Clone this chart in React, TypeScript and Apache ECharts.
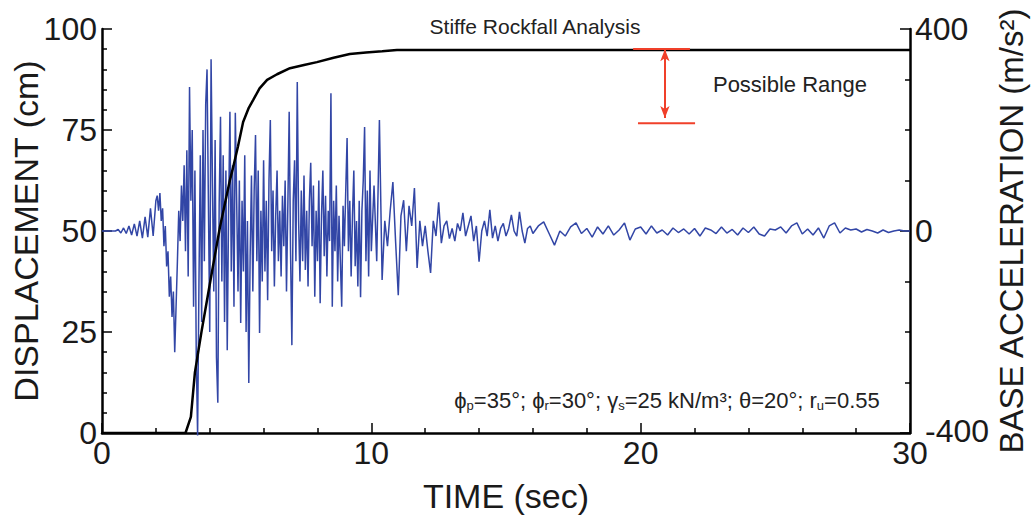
import React, { useEffect, useRef } from "react";
import * as echarts from "echarts";

// ---------- DATA ----------
// Axis ticks
const timeTicks = [0, 10, 20, 30];
const dispTicks = [0, 25, 50, 75, 100];
const accTicks = [-400, 0, 400];

// Displacement curve (cm) — time points and values
const dispTime = [0, 3.1, 3.3, 3.45, 3.71, 4.08, 4.38, 4.75, 4.87, 5.05, 5.24, 5.45, 5.61, 5.85, 6.13, 6.5, 6.98, 7.5, 7.98, 8.6, 9.2, 9.8, 10.4, 10.95, 30];
const dispValue = [0, 0, 4, 15, 25.7, 39.8, 51, 62.6, 65.8, 71, 77, 80.5, 82.4, 85.3, 87.4, 88.8, 90.3, 91.1, 91.8, 92.9, 93.8, 94.2, 94.5, 94.8, 94.8];

// Base acceleration record (m/s^2), in sampled segments
// Segment A: t = 0.0 .. 2.0, every 0.1 s
const accSegAStart = 0;
const accSegAStep = 0.1;
const accSegA = [0, 0, 0, 0, 0, 0, 3, -4, 6, -5, 10, -8, 14, -10, 20, -14, 28, -12, 45, -10, 60];
// Segment B: t = 2.05 .. 10.0, every 0.05 s
const accSegBStart = 2.05;
const accSegBStep = 0.05;
const accSegB = [
  70, 40, 75, 20, 45, -30, 10, -70, -40, -130, -90, -170, -120, -240, -150, -60, 40, -20, 90, 20,
  130, -40, 160, -90, 285, 60, 200, -150, 120, -250, -405, -100, 150, -180, 200, -60, 250, 320, 60, -200,
  340, 100, -120, 180, -250, -340, 50, 226, -100, 150, -180, 120, -236, 40, 236, -80, 130, -150, 234, 60,
  -120, 100, -182, 60, -80, 150, -200, 20, -301, -50, 110, -120, 80, 190, -60, 120, -202, 40, -100, 140,
  -80, 60, -137, 100, 220, -40, 80, -110, 30, 120, -60, 40, -90, 70, -30, 100, -120, 50, 236, -40,
  -226, 60, 140, -60, 295, 20, -100, 80, -60, 110, -77, 40, -110, 60, 135, -30, 90, -130, 40, -60,
  100, -143, 30, 120, -50, 70, -90, 40, -20, 273, -150, 60, -40, 90, -100, 30, -60, -150, 50, -30,
  80, 184, -40, 60, -90, 30, 120, -70, 20, -110, 60, -131, 40, 100, 206, -60, 80, -90, 120, -40,
];
// Segment C: t = 10.1 .. 16.0, every 0.1 s
const accSegCStart = 10.1;
const accSegCStep = 0.1;
const accSegC = [
  90, -60, 220, -97, 20, -30, 40, 97, -20, -127,
  30, 61, -40, 50, 10, 85, -73, 20, -30, 10,
  -40, -83, 20, -10, 57, -24, 10, 20, -15, 5,
  -20, 15, 0, 36, -10, 10, 30, -20, 10, -61,
  0, 20, -10, 42, -14, 10, -20, 5, 15, -10,
  5, 32, 0, -10, 38, 0, -24, 5, 10, -5,
];
// Segment D: t = 16.2 .. 30.0, every 0.2 s
const accSegDStart = 16.2;
const accSegDStep = 0.2;
const accSegD = [
  10, 18, -5, -28, 0, -10, 8, 16, -5, 5,
  -12, 8, -6, 10, -8, 2, 16, -18, 4, 8,
  -6, 10, -4, 2, -8, 6, -3, 4, -6, 5,
  -10, 6, 2, -5, 8, -4, 3, -8, 6, -3,
  8, -6, -10, 4, 2, 8, -4, 10, 16, -6,
  4, -8, 6, -14, 10, 16, -4, 6, 2, 4,
  -2, 3, 0, -4, 2, -3, 0, 2, 0, 0,
];

// "Possible Range" marker (displacement, cm)
const rangeUpperValue = 95.05;
const rangeUpperTime = [19.72, 21.83];
const rangeLowerValue = 76.7;
const rangeLowerTime = [19.9, 22.02];
const rangeArrowTime = 20.9;
const rangeArrowEnds = [95, 78];

// ---------- BUILD ----------
function seg(start: number, step: number, vals: number[]) {
  return vals.map((v, i) => [Math.round((start + i * step) * 1000) / 1000, v]);
}
const accData = [
  ...seg(accSegAStart, accSegAStep, accSegA),
  ...seg(accSegBStart, accSegBStep, accSegB),
  ...seg(accSegCStart, accSegCStep, accSegC),
  ...seg(accSegDStart, accSegDStep, accSegD),
];
const dispData = dispTime.map((t, i) => [t, dispValue[i]]);

const FONT = "Liberation Sans, Arial, sans-serif";
const RED = "#f0402a";
const TXT = "#1a1a1a";

export default function App() {
  const ref = useRef<HTMLDivElement>(null);
  useEffect(() => {
    if (!ref.current) return;
    const chart = echarts.init(ref.current, undefined, { renderer: "svg" });
    const axisLine = { show: true, onZero: false, lineStyle: { color: "#000", width: 2.5 } };
    const tick = { show: true, inside: true, length: 10, lineStyle: { color: "#000", width: 1.5 } };
    const minor = (n: number) => ({ show: true, splitNumber: n, length: 5, lineStyle: { color: "#000", width: 1.5 } });
    chart.setOption({
      animation: false,
      backgroundColor: "#fff",
      textStyle: { fontFamily: FONT },
      grid: { left: 102, right: 123, top: 29, bottom: 82, containLabel: false, outerBoundsMode: "none" },
      xAxis: {
        type: "value",
        min: timeTicks[0],
        max: timeTicks[timeTicks.length - 1],
        interval: timeTicks[1] - timeTicks[0],
        name: "TIME (sec)",
        nameLocation: "middle",
        nameGap: 46,
        nameMoveOverlap: false,
        nameTextStyle: { fontSize: 34, color: TXT, fontFamily: FONT },
        axisLine,
        axisTick: tick,
        minorTick: minor(5),
        axisLabel: { fontSize: 32, color: TXT, margin: 4, fontFamily: FONT },
        splitLine: { show: false },
        minorSplitLine: { show: false },
      },
      yAxis: [
        {
          type: "value",
          position: "left",
          min: dispTicks[0],
          max: dispTicks[dispTicks.length - 1],
          interval: dispTicks[1] - dispTicks[0],
          name: "DISPLACEMENT (cm)",
          nameLocation: "middle",
          nameRotate: 90,
          nameGap: 59,
          nameMoveOverlap: false,
          nameTextStyle: { fontSize: 34, color: TXT, fontFamily: FONT },
          axisLine,
          axisTick: tick,
          minorTick: minor(5),
          axisLabel: { fontSize: 32, color: TXT, margin: 5, fontFamily: FONT },
          splitLine: { show: false },
        },
        {
          type: "value",
          position: "right",
          min: accTicks[0],
          max: accTicks[accTicks.length - 1],
          interval: accTicks[1] - accTicks[0],
          name: "BASE ACCELERATION (m/s²)",
          nameLocation: "middle",
          nameRotate: 90,
          nameGap: 85,
          nameMoveOverlap: false,
          nameTextStyle: { fontSize: 33, color: TXT, fontFamily: FONT },
          axisLine,
          axisTick: tick,
          minorTick: minor(4),
          axisLabel: {
            fontSize: 32,
            color: TXT,
            margin: 5,
            fontFamily: FONT,
            formatter: (v: number) => (v < 0 ? "{neg|" + v + "}" : "{pos|" + v + "}"),
            rich: {
              pos: { fontSize: 32, color: TXT, fontFamily: FONT },
              neg: { fontSize: 32, color: TXT, fontFamily: FONT, padding: [0, 0, 4, 10] },
            },
          },
          splitLine: { show: false },
        },
      ],
      series: [
        {
          type: "line",
          yAxisIndex: 1,
          data: accData,
          showSymbol: false,
          clip: false,
          lineStyle: { color: "#3246a6", width: 1.5 },
          silent: true,
        },
        {
          type: "line",
          yAxisIndex: 0,
          data: dispData,
          showSymbol: false,
          lineStyle: { color: "#000", width: 2.5 },
          silent: true,
        },
        {
          type: "line",
          yAxisIndex: 0,
          data: rangeUpperTime.map((t) => [t, rangeUpperValue]),
          showSymbol: false,
          lineStyle: { color: RED, width: 2 },
          silent: true,
          markLine: {
            silent: true,
            symbol: ["arrow", "arrow"],
            symbolSize: [7, 12],
            label: { show: false },
            lineStyle: { color: RED, width: 2, type: "solid" },
            data: [
              [
                { coord: [rangeArrowTime, rangeArrowEnds[0]] },
                { coord: [rangeArrowTime, rangeArrowEnds[1]] },
              ],
            ],
          },
        },
        {
          type: "line",
          yAxisIndex: 0,
          data: rangeLowerTime.map((t) => [t, rangeLowerValue]),
          showSymbol: false,
          lineStyle: { color: RED, width: 2 },
          silent: true,
        },
      ],
      graphic: [
        {
          type: "text",
          x: 535,
          y: 26,
          style: { text: "Stiffe Rockfall Analysis", fontSize: 21, fill: "#222", fontFamily: FONT, align: "center", verticalAlign: "middle" },
        },
        {
          type: "text",
          x: 790,
          y: 84,
          style: { text: "Possible Range", fontSize: 22, fill: "#222", fontFamily: FONT, align: "center", verticalAlign: "middle" },
        },
        {
          type: "text",
          x: 667,
          y: 400,
          style: {
            text: "{n|ϕ}{s|p}{n|=35°; ϕ}{s|r}{n|=30°; γ}{s|s}{n|=25 kN/m³; θ=20°; r}{s|u}{n|=0.55}",
            align: "center",
            verticalAlign: "middle",
            fill: "#222",
            fontFamily: FONT,
            rich: {
              n: { fontSize: 22, lineHeight: 24, fill: "#222", fontFamily: FONT },
              s: { fontSize: 13, lineHeight: 10, verticalAlign: "bottom", fill: "#222", fontFamily: FONT },
            },
          },
        },
      ],
    });
    return () => chart.dispose();
  }, []);
  return <div ref={ref} style={{ position: "fixed", left: 0, top: 0, width: "1033px", height: "515px" }} />;
}
